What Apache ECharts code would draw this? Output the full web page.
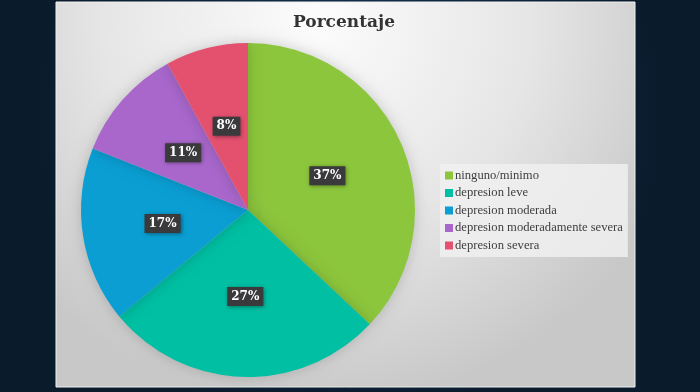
<!DOCTYPE html>
<html>
<head>
<meta charset="utf-8">
<script src="https://cdn.jsdelivr.net/npm/echarts@6/dist/echarts.min.js"></script>
<style>
html,body{margin:0;padding:0;background:#0b1d30;}
#c{width:700px;height:392px;}
</style>
</head>
<body>
<div id="c"></div>
<script>
const titleText = 'Porcentaje';
const categories = ['ninguno/minimo','depresion leve','depresion moderada','depresion moderadamente severa','depresion severa'];
const values = [37, 27, 17, 11, 8];
const colors = ['#8cc63c','#00bfa2','#0a9ed3','#a967cc','#e4516f'];

const chart = echarts.init(document.getElementById('c'));
chart.setOption({
  backgroundColor: {
    type: 'radial', x: 0.5, y: 0.3, r: 0.8,
    colorStops: [{offset: 0, color: '#133454'}, {offset: 1, color: '#0a1b2c'}]
  },
  animation: false,
  graphic: [{
    type: 'rect', z: -1,
    shape: {x: 56, y: 2, width: 579, height: 385},
    style: {
      fill: {
        type: 'radial', x: 0.45, y: 0.05, r: 1.0,
        colorStops: [{offset: 0, color: '#fcfcfc'}, {offset: 0.55, color: '#e6e6e6'}, {offset: 1, color: '#c8c8c8'}]
      },
      stroke: '#efefef', lineWidth: 1
    }
  }],
  title: {
    text: titleText, left: 288, top: 9,
    textStyle: {fontFamily: 'DejaVu Serif', fontWeight: 'bold', fontSize: 17, color: '#333333'}
  },
  legend: {
    orient: 'vertical', left: 440, top: 164,
    itemWidth: 8, itemHeight: 8, itemGap: 4.5, icon: 'rect',
    backgroundColor: 'rgba(240,240,240,0.85)',
    padding: [5, 5, 5, 5],
    data: categories,
    textStyle: {fontFamily: 'Liberation Serif', fontSize: 12.6, color: '#404040', padding: [0,0,0,-3]}
  },
  series: [{
    type: 'pie', center: [248, 210], radius: 167, startAngle: 90, clockwise: true,
    data: categories.map((c, i) => ({name: c, value: values[i], itemStyle: {color: colors[i]}})),
    itemStyle: {shadowBlur: 14, shadowColor: 'rgba(0,0,0,0.18)'},
    label: {
      show: true, position: 'inside',
      formatter: p => p.value + '%',
      fontFamily: 'DejaVu Serif', fontWeight: 'bold', fontSize: 12, color: '#ffffff',
      backgroundColor: '#3a3a3c', padding: [4, 4, 3, 4],
      shadowBlur: 4, shadowColor: 'rgba(0,0,0,0.4)', shadowOffsetX: 1, shadowOffsetY: 1
    },
    labelLine: {show: false},
    emphasis: {disabled: true}
  }]
});
</script>
</body>
</html>
